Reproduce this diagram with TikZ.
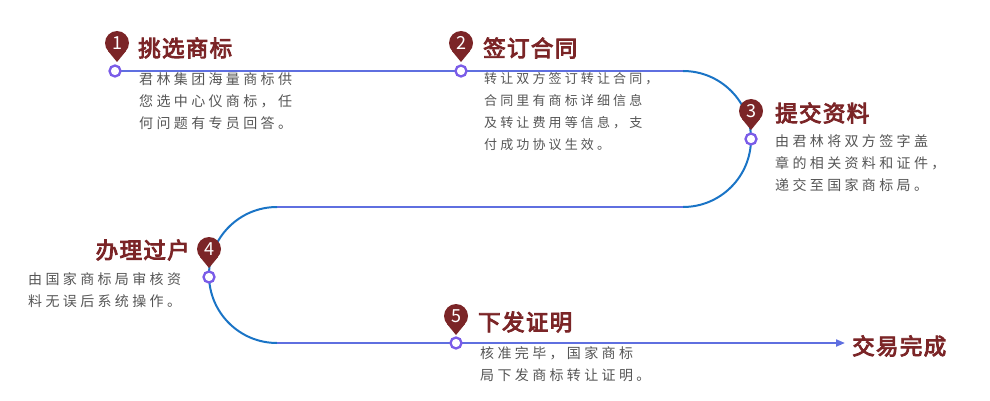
\documentclass[tikz,border=0pt]{standalone}
\usepackage{fontspec}
\setmainfont{Noto Sans CJK SC}
\newfontfamily\tfont[FakeBold=4,LetterSpace=6]{Noto Sans CJK SC}
\newfontfamily\bfont[LetterSpace=24]{Noto Sans CJK SC}
\usetikzlibrary{arrows.meta,calc}
\definecolor{tred}{HTML}{7B2527}
\definecolor{lineA}{HTML}{5F6FE0}
\definecolor{arcB}{HTML}{1A74C6}
\definecolor{txt}{HTML}{555555}
\definecolor{ring}{HTML}{7A5CE8}
\tikzset{
 title/.style={text=tred,font=\tfont\fontsize{22.5}{24}\selectfont,inner sep=0},
 body/.style={text=txt,font=\bfont\fontsize{14}{22}\selectfont,inner sep=0,align=left,anchor=north west},
 seg/.style={draw=lineA,line width=2pt},
 arcs/.style={draw=arcB,line width=2pt},
 dot/.style={circle,draw=ring,fill=white,line width=2.3pt,minimum size=11pt,inner sep=0},
}
\newcommand{\pin}[3]{%
 \fill[tred] (#1,#2) circle (12);
 \fill[tred] ($(#1,#2)+(-9,8)$) -- ($(#1,#2)+(0,19)$) -- ($(#1,#2)+(9,8)$) -- cycle;
 \node[text=white,font=\fontsize{18}{18}\selectfont,inner sep=0] at (#1,#2) {#3};}
\begin{document}
\begin{tikzpicture}[x=1pt,y=-1pt]
\useasboundingbox (0,0) rectangle (990,401);
\coordinate (a1) at (115,71); \coordinate (a2) at (683,71);
\coordinate (b1) at (683,207); \coordinate (b2) at (277,207);
\coordinate (c1) at (277,343); \coordinate (c2) at (845,343);
\draw[seg] (a1) -- (a2);
\draw[arcs] (a2) arc[start angle=-90,end angle=90,radius=68];
\draw[seg] (b1) -- (b2);
\draw[arcs] (b2) arc[start angle=-90,end angle=-270,radius=68];
\draw[seg,-{Triangle[length=9pt,width=7pt]}] (c1) -- (c2);
\node[dot] (d1) at (115,71) {};
\node[dot] (d2) at (461,71) {};
\node[dot] (d3) at (751,139) {};
\node[dot] (d4) at (209,277) {};
\node[dot] (d5) at (456,343) {};
\pin{117}{43}{1}
\pin{461}{43}{2}
\pin{751}{111}{3}
\pin{209}{249}{4}
\pin{456}{316}{5}
\node[title,anchor=west] (t1) at (138,48) {挑选商标};
\node[body] (p1) at (139,72) {君林集团海量商标供\\您选中心仪商标，任\\何问题有专员回答。};
\node[title,anchor=west] (t2) at (483,48) {签订合同};
\node[body,font=\bfont\fontsize{13}{22}\selectfont] (p2) at (484,72) {转让双方签订转让合同，\\合同里有商标详细信息\\及转让费用等信息，支\\付成功协议生效。};
\node[title,anchor=west] (t3) at (775,113) {提交资料};
\node[body] (p3) at (775,134) {由君林将双方签字盖\\章的相关资料和证件，\\递交至国家商标局。};
\node[title,anchor=east] (t4) at (190,250) {办理过户};
\node[body] (p4) at (28,272) {由国家商标局审核资\\料无误后系统操作。};
\node[title,anchor=west] (t5) at (478,322) {下发证明};
\node[body] (p5) at (480,346) {核准完毕，国家商标\\局下发商标转让证明。};
\node[title,anchor=west] (t6) at (852,346) {交易完成};
\end{tikzpicture}
\end{document}
